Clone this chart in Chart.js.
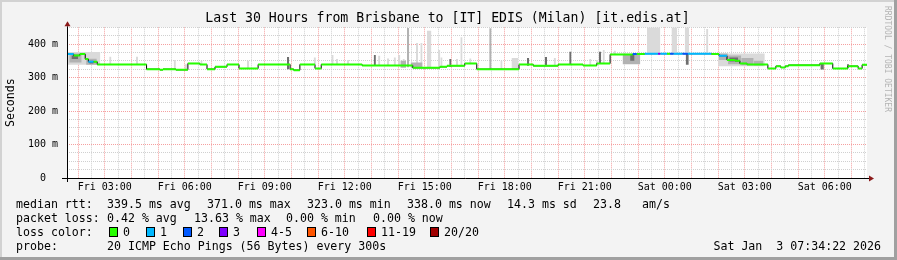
<!DOCTYPE html>
<html>
<head>
<meta charset="utf-8">
<script src="https://cdn.jsdelivr.net/npm/chart.js@4.4.1/dist/chart.umd.min.js"></script>
<style>
  body { margin: 0; background: #fff; }
  #wrap { position: relative; width: 897px; height: 260px; font-family: 'DejaVu Sans Mono', monospace; }
  #myChart { position: absolute; left: 0; top: 0; }
  .t { position: absolute; font-size: 11.6px; line-height: 14px; height: 14px; white-space: pre; color: #000; }
  .box { position: absolute; width: 7px; height: 8px; border: 1px solid #000; }
</style>
</head>
<body>
<div id="wrap">
  <canvas id="myChart" width="897" height="260"></canvas>
  <div id="legend"></div>
</div>
<script>
const FONT = "'DejaVu Sans Mono', monospace"
const TITLE = "Last 30 Hours from Brisbane to [IT] EDIS (Milan) [it.edis.at]"

// time is minutes from Fri 00:00
const xStart = 95
const xEnd = 1895
const xTickMinutes = [180, 360, 540, 720, 900, 1080, 1260, 1440, 1620, 1800]
const xTickLabels = ["Fri 03:00", "Fri 06:00", "Fri 09:00", "Fri 12:00", "Fri 15:00",
  "Fri 18:00", "Fri 21:00", "Sat 00:00", "Sat 03:00", "Sat 06:00"]
const yTickValues = [0, 100, 200, 300, 400]
const yTickLabels = ["0  ", "100 m", "200 m", "300 m", "400 m"]

// median rtt as steps: start minute, value (ms), lost pings
const medianStart = [95, 110, 124, 136, 143, 155, 163, 274, 304, 311, 340, 367, 394, 410, 428, 455,
  482, 525, 597, 605, 619, 653, 667, 759, 873, 934, 950, 990, 1017, 1112, 1144, 1200, 1256, 1287,
  1317, 1368, 1377, 1395, 1425, 1430, 1445, 1452, 1460, 1480, 1492, 1545, 1562, 1580, 1598, 1609,
  1625, 1672, 1690, 1701, 1711, 1718, 1789, 1818, 1852, 1875, 1884]
const medianRtt = [370, 366, 370, 355, 347, 347, 339, 325, 323, 325, 323, 342, 339, 325, 332, 339,
  327, 339, 325, 322, 339, 327, 339, 336, 329, 332, 335, 342, 325, 339, 335, 339, 336, 342,
  369, 370, 370, 371, 371, 371, 371, 371, 371, 371, 371, 370, 365, 352, 350, 342,
  339, 327, 334, 330, 334, 337, 342, 327, 334, 327, 338]
const medianLoss = [1, 0, 0, 0, 1, 0, 0, 0, 0, 0, 0, 0, 0, 0, 0, 0,
  0, 0, 0, 0, 0, 0, 0, 0, 0, 0, 0, 0, 0, 0, 0, 0, 0, 0,
  0, 2, 0, 1, 3, 1, 0, 2, 1, 2, 1, 0, 1, 0, 0, 0,
  0, 0, 0, 0, 0, 0, 0, 0, 0, 0, 0]

// smoke blocks: [from, to, low, high]
const smokeLight = [
  [95, 170, 338, 376], [190, 195, 338, 362], [250, 255, 338, 362], [335, 340, 325, 352],
  [360, 365, 325, 340], [395, 400, 340, 350], [500, 505, 327, 350], [650, 655, 339, 360],
  [690, 695, 339, 367], [700, 705, 339, 355], [725, 730, 339, 352], [795, 800, 337, 365],
  [815, 820, 337, 357], [830, 835, 337, 360], [840, 845, 337, 367], [850, 855, 337, 355],
  [880, 885, 329, 403], [890, 895, 329, 403], [905, 915, 329, 440], [930, 935, 330, 382],
  [935, 940, 330, 360], [970, 975, 335, 355], [980, 985, 335, 420], [1000, 1005, 340, 357],
  [1070, 1075, 325, 350], [1095, 1110, 325, 358], [1190, 1195, 335, 358], [1270, 1275, 337, 355],
  [1285, 1290, 337, 352], [1300, 1305, 342, 382], [1325, 1330, 368, 380], [1400, 1430, 372, 450],
  [1455, 1468, 372, 450], [1485, 1495, 372, 450], [1533, 1538, 372, 445], [1560, 1665, 334, 372]
]
const smokeMid = [
  [100, 128, 345, 372], [138, 162, 338, 356], [845, 858, 329, 350], [860, 865, 331, 448],
  [868, 895, 329, 345], [1045, 1050, 325, 447], [1345, 1385, 340, 368], [1562, 1582, 352, 372],
  [1582, 1612, 340, 366], [1612, 1640, 337, 358], [1640, 1662, 336, 350]
]
const smokeDark = [
  [105, 120, 355, 366], [145, 155, 342, 350], [590, 595, 325, 361], [785, 790, 337, 367],
  [955, 960, 332, 355], [1130, 1135, 335, 358], [1170, 1175, 335, 361], [1225, 1230, 339, 377],
  [1292, 1297, 342, 377], [1362, 1372, 350, 369], [1487, 1494, 338, 371], [1585, 1605, 348, 360],
  [1790, 1798, 324, 342], [1850, 1855, 330, 340]
]

const lossLabels = ["0", "1", "2", "3", "4-5", "6-10", "11-19", "20/20"]
const lossColors = ["#26ff00", "#00b8ff", "#0059ff", "#7e00ff", "#ff00ff", "#ff5500", "#ff0000", "#a00000"]
const rttStats = ["339.5 ms avg", "371.0 ms max", "323.0 ms min", "338.0 ms now", "14.3 ms sd", "23.8", "am/s"]
const lossStats = ["0.42 % avg", "13.63 % max", "0.00 % min", "0.00 % now"]
const probeText = "20 ICMP Echo Pings (56 Bytes) every 300s"
const stampText = "Sat Jan  3 07:34:22 2026"


function band(blocks, k) {
  let pts = []
  blocks.forEach((b) => {
    pts.push({x: b[0], y: b[k]}, {x: b[1], y: b[k]}, {x: b[1], y: null})
  })
  return pts
}

function smokeSets(blocks, color) {
  return [
    {data: band(blocks, 3), fill: "+1", backgroundColor: color, borderColor: "rgba(0,0,0,0)",
      borderWidth: 0, pointRadius: 0, spanGaps: false},
    {data: band(blocks, 2), fill: false, borderColor: "rgba(0,0,0,0)",
      borderWidth: 0, pointRadius: 0, spanGaps: false}
  ]
}

// black stepped line, the coloured horizontals go on top of it
let stepData = medianStart.map((t, i) => ({x: t, y: medianRtt[i]}))
stepData.push({x: xEnd, y: medianRtt[medianRtt.length - 1]})

let flatData = []
medianStart.forEach((t, i) => {
  let next = i + 1 < medianStart.length ? medianStart[i + 1] : xEnd
  flatData.push({x: t, y: medianRtt[i], loss: medianLoss[i]},
    {x: next, y: medianRtt[i], loss: medianLoss[i]},
    {x: next, y: null})
})

const frame = {
  id: "frame",
  beforeDraw(chart) {
    const c = chart.ctx, a = chart.chartArea
    c.save()
    c.fillStyle = "#f3f3f3"
    c.fillRect(0, 0, chart.width, chart.height)
    c.fillStyle = "#d2d2d2"
    c.fillRect(0, 0, chart.width, 2)
    c.fillRect(0, 0, 2, chart.height)
    c.fillStyle = "#a0a0a0"
    c.fillRect(0, chart.height - 3, chart.width, 3)
    c.fillRect(chart.width - 3, 0, 3, chart.height)
    c.fillStyle = "#fff"
    c.fillRect(a.left, a.top, a.right - a.left, a.bottom - a.top)
    c.font = "13.2px " + FONT
    c.fillStyle = "#000"
    c.textAlign = "center"
    c.textBaseline = "middle"
    c.fillText(TITLE, 447.5, 19)
    c.restore()
  },
  afterDraw(chart) {
    const c = chart.ctx, a = chart.chartArea
    c.save()
    c.strokeStyle = "#000"
    c.lineWidth = 1
    c.beginPath()
    c.moveTo(a.left - 5, a.bottom + 0.5)
    c.lineTo(a.right + 2, a.bottom + 0.5)
    c.moveTo(a.left + 0.5, a.bottom + 4)
    c.lineTo(a.left + 0.5, a.top - 1)
    c.stroke()
    c.fillStyle = "#8b1a1a"
    c.beginPath()
    c.moveTo(a.left + 0.5, a.top - 6)
    c.lineTo(a.left - 2.5, a.top - 1)
    c.lineTo(a.left + 3.5, a.top - 1)
    c.fill()
    c.beginPath()
    c.moveTo(a.right + 7, a.bottom + 0.5)
    c.lineTo(a.right + 2, a.bottom - 2.5)
    c.lineTo(a.right + 2, a.bottom + 3.5)
    c.fill()
    c.translate(887, 59)
    c.rotate(Math.PI / 2)
    c.font = "8px " + FONT
    c.fillStyle = "#b4b4b4"
    c.textAlign = "center"
    c.textBaseline = "middle"
    c.fillText("RRDTOOL / TOBI OETIKER", 0, 0)
    c.restore()
  }
}

const ctx = document.getElementById("myChart")
const myChart = new Chart(ctx, {
  type: "line",
  data: {
    datasets: [
      {data: flatData, borderWidth: 2, pointRadius: 0, spanGaps: false, fill: false,
        borderColor: lossColors[0],
        segment: {
          borderColor: (s) => lossColors[flatData[s.p0DataIndex].loss || 0]
        }},
      {data: stepData, stepped: true, borderWidth: 1, borderColor: "#000", pointRadius: 0, fill: false},
      ...smokeSets(smokeDark, "#6e6e6e"),
      ...smokeSets(smokeMid, "#b2b2b2"),
      ...smokeSets(smokeLight, "#dadada")
    ]
  },
  options: {
    responsive: false,
    animation: false,
    devicePixelRatio: 1,
    layout: {padding: {left: 0, right: 30, top: 27.3, bottom: 0}},
    plugins: {
      legend: {display: false},
      tooltip: {enabled: false},
      title: {display: false}
    },
    scales: {
      x: {
        type: "linear",
        min: xStart,
        max: xEnd,
        afterBuildTicks: (scale) => {
          let ticks = []
          for (let m = 120; m < xEnd; m += 30) ticks.push({value: m})
          scale.ticks = ticks
        },
        afterFit: (scale) => { scale.height = 82 },
        ticks: {
          autoSkip: false,
          maxRotation: 0,
          padding: 3,
          color: "#000",
          font: {family: FONT, size: 10},
          callback: (v) => {
            let i = xTickMinutes.indexOf(v)
            return i < 0 ? "" : xTickLabels[i]
          }
        },
        grid: {
          drawTicks: false,
          lineWidth: 1,
          color: (c) => (c.tick && c.tick.value % 60 === 0) ? "#f5a0a0" : "#d0d0d0"
        },
        border: {display: false, dash: [1, 1]}
      },
      y: {
        min: 0,
        max: 450,
        afterBuildTicks: (scale) => {
          let ticks = []
          for (let v = 0; v <= 450; v += 25) ticks.push({value: v})
          scale.ticks = ticks
        },
        afterFit: (scale) => { scale.width = 67 },
        title: {
          display: true,
          text: "Seconds",
          color: "#000",
          font: {family: FONT, size: 11.6},
          padding: {top: 4, bottom: 0}
        },
        ticks: {
          autoSkip: false,
          padding: 9,
          color: "#000",
          font: {family: FONT, size: 10},
          callback: (v) => {
            let i = yTickValues.indexOf(v)
            return i < 0 ? "" : yTickLabels[i]
          }
        },
        grid: {
          drawTicks: false,
          lineWidth: 1,
          color: (c) => (c.tick && c.tick.value % 100 === 0) ? "#f5a0a0" : "#d0d0d0"
        },
        border: {display: false, dash: [1, 1]}
      }
    }
  },
  plugins: [frame]
})


// legend rows under the chart
const legend = document.getElementById("legend")

function addText(x, y, text, right) {
  let d = document.createElement("div")
  d.className = "t"
  d.textContent = text
  d.style.top = (y - 7) + "px"
  if (right) {
    d.style.right = (897 - x) + "px"
  } else {
    d.style.left = x + "px"
  }
  legend.appendChild(d)
}

function addBox(x, y, color) {
  let d = document.createElement("div")
  d.className = "box"
  d.style.left = x + "px"
  d.style.top = (y - 5) + "px"
  d.style.background = color
  legend.appendChild(d)
}

const rttX = [107, 207, 307, 407, 507, 593, 642]
const lossX = [107, 194, 286, 373]
const boxX = [109, 146, 183, 219, 257, 307, 367, 430]

addText(16, 204, "median rtt:")
rttStats.forEach((s, i) => addText(rttX[i], 204, s))
addText(16, 218, "packet loss:")
lossStats.forEach((s, i) => addText(lossX[i], 218, s))
addText(16, 232, "loss color:")
lossLabels.forEach((s, i) => {
  addBox(boxX[i], 232, lossColors[i])
  addText(boxX[i] + 14, 232, s)
})
addText(16, 246, "probe:")
addText(107, 246, probeText)
addText(881, 246, stampText, true)
</script>
</body>
</html>
